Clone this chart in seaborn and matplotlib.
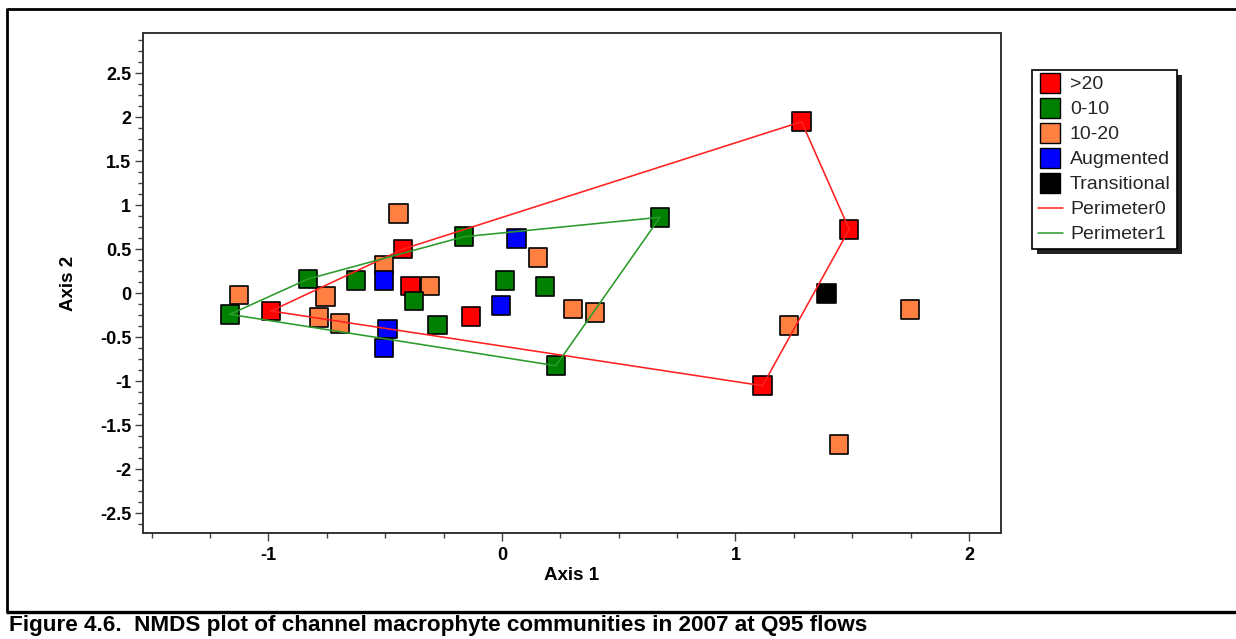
import numpy as np
import pandas as pd
import matplotlib
matplotlib.use("Agg")
import matplotlib.pyplot as plt
from matplotlib.lines import Line2D
from matplotlib.patches import Rectangle
from matplotlib.ticker import MultipleLocator, FuncFormatter
import seaborn as sns

# NMDS site scores grouped by class
red_x = [1.283, 1.487, 1.116, -0.989, -0.423, -0.391, -0.133]
red_y = [1.95, 0.727, -1.05, -0.201, 0.503, 0.083, -0.266]

green_x = [-1.165, -0.83, -0.625, -0.376, -0.275, -0.163, 0.013, 0.184, 0.231, 0.677]
green_y = [-0.239, 0.163, 0.143, -0.088, -0.36, 0.643, 0.143, 0.075, -0.823, 0.864]

orange_x = [-1.126, -0.444, -0.505, -0.755, -0.784, -0.694, -0.308, 0.155, 0.305, 0.398, 1.23, 1.747, 1.443]
orange_y = [-0.02, 0.905, 0.322, -0.039, -0.277, -0.341, 0.083, 0.405, -0.178, -0.22, -0.364, -0.182, -1.716]

blue_x = [-0.505, -0.491, -0.505, 0.063, -0.004]
blue_y = [0.143, -0.406, -0.62, 0.625, -0.14]

black_x = [1.39]
black_y = [0.0]

# Hull vertices (indices into the group arrays), closed
perimeter0_idx = [3, 4, 0, 1, 2, 3]   # >20
perimeter1_idx = [0, 1, 5, 9, 8, 0]   # 0-10

groups = [">20", "0-10", "10-20", "Augmented", "Transitional"]
colors = {">20": "#FF0000", "0-10": "#008000", "10-20": "#FF8040",
          "Augmented": "#0000FF", "Transitional": "#000000"}
line_colors = {"Perimeter0": "#FF2020", "Perimeter1": "#2A9A2A"}

y_ticks = [-2.5, -2, -1.5, -1, -0.5, 0, 0.5, 1, 1.5, 2, 2.5]
x_ticks = [-1, 0, 1, 2]

# drawing order of the markers
frames = [
    pd.DataFrame({"Axis 1": orange_x, "Axis 2": orange_y, "group": "10-20"}),
    pd.DataFrame({"Axis 1": red_x, "Axis 2": red_y, "group": ">20"}),
    pd.DataFrame({"Axis 1": green_x, "Axis 2": green_y, "group": "0-10"}),
    pd.DataFrame({"Axis 1": blue_x, "Axis 2": blue_y, "group": "Augmented"}),
    pd.DataFrame({"Axis 1": black_x, "Axis 2": black_y, "group": "Transitional"}),
]
pts = pd.concat(frames, ignore_index=True)

perim = pd.concat([
    pd.DataFrame({"Axis 1": [red_x[i] for i in perimeter0_idx],
                  "Axis 2": [red_y[i] for i in perimeter0_idx],
                  "perimeter": "Perimeter0"}),
    pd.DataFrame({"Axis 1": [green_x[i] for i in perimeter1_idx],
                  "Axis 2": [green_y[i] for i in perimeter1_idx],
                  "perimeter": "Perimeter1"}),
], ignore_index=True)

sns.set_theme(style="white")
plt.rcParams["font.family"] = ["Liberation Sans", "DejaVu Sans"]
plt.rcParams["axes.unicode_minus"] = False

W, H = 1236, 639
fig = plt.figure(figsize=(W / 100, H / 100), dpi=100)
fig.patch.set_facecolor("white")

ax_l, ax_r, ax_t, ax_b = 143, 1001, 33, 533
ax = fig.add_axes([ax_l / W, 1 - ax_b / H, (ax_r - ax_l) / W, (ax_b - ax_t) / H])

sns.scatterplot(data=pts, x="Axis 1", y="Axis 2", hue="group", palette=colors,
                marker="s", s=178, edgecolor="black", linewidth=1.2,
                legend=False, ax=ax, zorder=2)
sns.lineplot(data=perim, x="Axis 1", y="Axis 2", hue="perimeter",
             palette=line_colors, sort=False, estimator=None,
             linewidth=1.15, legend=False, ax=ax, zorder=3)

ax.set_xlim(-1.537, 2.137)
ax.set_ylim(-2.724, 2.958)

ax.set_xticks(x_ticks)
ax.set_yticks(y_ticks)
ax.xaxis.set_minor_locator(MultipleLocator(0.25))
ax.yaxis.set_minor_locator(MultipleLocator(0.125))
fmt = FuncFormatter(lambda v, p: f"{v:g}")
ax.xaxis.set_major_formatter(fmt)
ax.yaxis.set_major_formatter(fmt)

ax.tick_params(which="both", direction="out", color="#444444", width=1.0,
               left=True, bottom=True, top=False, right=False)
ax.tick_params(which="major", length=6.0, labelsize=13, pad=2.5)
ax.tick_params(axis="x", which="major", pad=4)
ax.tick_params(which="minor", length=3.6)
for lab in ax.get_xticklabels() + ax.get_yticklabels():
    lab.set_fontweight("bold")
    lab.set_color("black")

for sp in ax.spines.values():
    sp.set_visible(True)
    sp.set_color("#333333")
    sp.set_linewidth(1.4)

ax.set_xlabel("Axis 1", fontsize=13.5, fontweight="bold", color="black")
ax.set_ylabel("Axis 2", fontsize=13.5, fontweight="bold", color="black")
ax.xaxis.set_label_coords(0.5, -0.068)
ax.yaxis.set_label_coords(-0.077, 0.5)
ax.grid(False)

# legend
handles = []
for g in groups:
    handles.append(Line2D([], [], linestyle="none", marker="s", markersize=13.8,
                          markerfacecolor=colors[g], markeredgecolor="black",
                          markeredgewidth=1.0, label=g))
for name in ["Perimeter0", "Perimeter1"]:
    handles.append(Line2D([], [], color=line_colors[name], linewidth=1.1, label=name))

leg = fig.legend(handles=handles, loc="upper left",
                 bbox_to_anchor=(1032 / W, 1 - 70 / H), bbox_transform=fig.transFigure,
                 fontsize=14, frameon=True, fancybox=False, framealpha=1,
                 edgecolor="black", borderpad=0.3, labelspacing=0.38,
                 handlelength=1.3, handletextpad=0.35, borderaxespad=0)
leg.get_frame().set_linewidth(1.2)
leg.set_zorder(5)

fig.canvas.draw()
bb = leg.get_window_extent()
fig.add_artist(Rectangle((bb.x0 + 5, bb.y0 - 5), bb.width, bb.height,
                         transform=None, facecolor="#222222", edgecolor="none",
                         zorder=4))

# figure frame and caption rule
def px_line(x0, y0, x1, y1, lw):
    fig.add_artist(Line2D([x0 / W, x1 / W], [1 - y0 / H, 1 - y1 / H],
                          transform=fig.transFigure, color="black",
                          linewidth=lw, solid_capstyle="butt"))

px_line(7, 9, W, 9, 2.0)
px_line(7, 8, 7, 612, 2.0)
px_line(6, 612, W, 612, 2.4)

fig.text(9 / W, 1 - 625 / H,
         "Figure 4.6.  NMDS plot of channel macrophyte communities in 2007 at Q95 flows",
         fontsize=16.2, fontweight="bold", va="center", ha="left", color="black")

fig.savefig("out.png", dpi=100, facecolor="white")
